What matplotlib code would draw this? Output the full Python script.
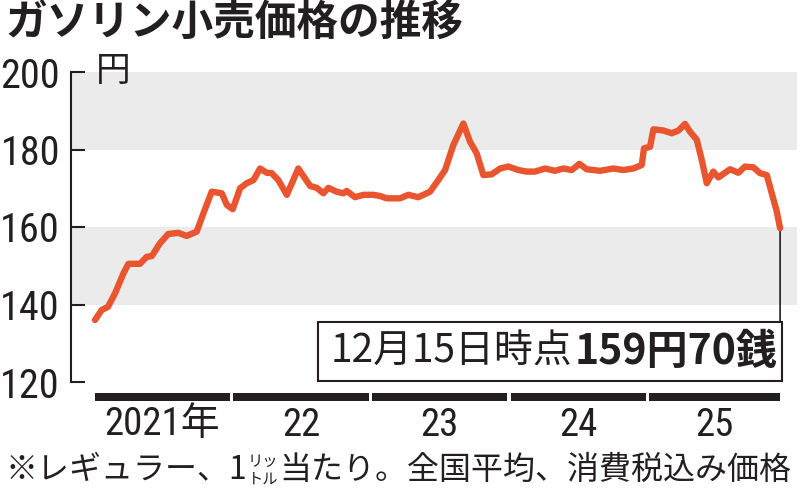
import matplotlib
matplotlib.use('Agg')
import matplotlib.pyplot as plt
import matplotlib.transforms as mtransforms
from matplotlib import font_manager
from matplotlib.patches import Rectangle

# ガソリン小売価格（円/リットル）、横軸は年（小数）
date_year = [2021.014, 2021.063, 2021.108, 2021.159, 2021.219, 2021.255, 2021.339,
             2021.387, 2021.424, 2021.483, 2021.543, 2021.615, 2021.676, 2021.748,
             2021.796, 2021.856, 2021.929, 2021.965, 2022.008, 2022.061, 2022.109,
             2022.157, 2022.205, 2022.253, 2022.289, 2022.337, 2022.398, 2022.481,
             2022.566, 2022.614, 2022.662, 2022.698, 2022.758, 2022.806, 2022.830,
             2022.890, 2022.950, 2023.022, 2023.071, 2023.119, 2023.215, 2023.275,
             2023.347, 2023.431, 2023.491, 2023.540, 2023.600, 2023.672, 2023.720,
             2023.768, 2023.816, 2023.877, 2023.937, 2023.996, 2024.069, 2024.129,
             2024.189, 2024.261, 2024.333, 2024.393, 2024.454, 2024.509, 2024.562,
             2024.658, 2024.754, 2024.826, 2024.898, 2024.959, 2024.975, 2025.019,
             2025.043, 2025.115, 2025.175, 2025.224, 2025.271, 2025.307, 2025.356,
             2025.392, 2025.428, 2025.475, 2025.512, 2025.596, 2025.656, 2025.704,
             2025.764, 2025.812, 2025.861, 2025.897, 2025.933, 2025.957]
price = [136.0, 138.6, 139.4, 142.9, 148.0, 150.5, 150.5,
         152.3, 152.5, 155.8, 158.2, 158.5, 157.7, 158.8,
         163.5, 169.1, 168.7, 165.7, 164.6, 170.0, 171.3,
         172.1, 175.1, 174.0, 173.9, 172.1, 168.3, 175.1,
         170.6, 170.1, 168.7, 170.1, 169.1, 168.7, 169.3,
         167.7, 168.3, 168.3, 168.0, 167.4, 167.4, 168.3,
         167.7, 169.1, 172.1, 174.7, 181.2, 186.7, 182.0,
         179.0, 173.4, 173.6, 175.1, 175.6, 174.7, 174.3,
         174.3, 175.1, 174.5, 175.1, 174.7, 176.3, 174.9,
         174.5, 175.1, 174.7, 175.1, 176.0, 180.3, 180.7,
         185.2, 184.9, 184.2, 184.9, 186.6, 184.6, 182.5,
         177.3, 171.3, 174.3, 172.8, 174.9, 174.0, 175.6,
         175.4, 173.9, 173.4, 168.7, 164.0, 159.7]

year_starts = [2021, 2022, 2023, 2024, 2025]
year_labels = ['2021年', '22', '23', '24', '25']
ytick_values = [120, 140, 160, 180, 200]
band_ranges = [(180, 200), (140, 160)]

title = 'ガソリン小売価格の推移'
unit = '円'
latest_note = '12月15日時点'
latest_value = '159円70銭'
foot_1 = '※レギュラー、1'
foot_small = ('リッ', 'トル')
foot_2 = '当たり。全国平均、消費税込み価格'

W, H = 800, 492
INK = '#231f20'
ORANGE = '#e8552f'
JP = 'Noto Sans CJK JP'
installed = {f.name for f in font_manager.fontManager.ttflist}
NUM = next((n for n in ['Roboto Condensed', 'Archivo Narrow', 'PT Sans Narrow']
            if n in installed), 'DejaVu Sans')

fig = plt.figure(figsize=(W / 100, H / 100), dpi=100)
# pixel coords measured from the top-left corner
px = mtransforms.Affine2D().scale(1 / W, -1 / H).translate(0, 1) + fig.transFigure

ax = fig.add_axes([71 / W, 1 - 382 / H, 726 / W, 310 / H])
ax.set_facecolor('none')
ax.set_xlim(2020.841, 2026.079)
ax.set_ylim(120, 200)

for lo, hi in band_ranges:
    ax.axhspan(lo, hi, xmin=0.002, color='#ebebeb', lw=0, zorder=0)

ax.plot(date_year, price, color=ORANGE, lw=4.6,
        solid_capstyle='round', solid_joinstyle='round', zorder=3)

for s in ['top', 'right', 'bottom']:
    ax.spines[s].set_visible(False)
ax.spines['left'].set_linewidth(1.5)
ax.spines['left'].set_color(INK)
ax.set_xticks([])
ax.set_yticks(ytick_values)
ax.tick_params(axis='y', direction='in', length=10, width=1.5, color=INK,
               pad=8, labelsize=29, labelcolor=INK)
for lab in ax.get_yticklabels():
    lab.set_family([NUM, JP])

# year bars under the plot
trans = mtransforms.blended_transform_factory(ax.transData, px)
for y0, lab in zip(year_starts, year_labels):
    x0 = y0 + 0.012
    x1 = min(y0 + 0.988, date_year[-1])
    ax.add_patch(Rectangle((x0, 393), x1 - x0, 8, transform=trans,
                           color=INK, lw=0, clip_on=False))
    ax.text((x0 + x1) / 2, 425, lab, transform=trans, ha='center', va='center',
            fontsize=28, family=[NUM, JP], color=INK)

# latest value box with leader line
ax.annotate('', xy=(date_year[-1], price[-1]), xytext=(date_year[-1], 322),
            textcoords=trans,
            arrowprops=dict(arrowstyle='-', lw=1.2, color=INK, shrinkA=0, shrinkB=0),
            zorder=2)
fig.add_artist(Rectangle((318, 322), 464, 59, transform=px,
                         facecolor='white', edgecolor=INK, lw=1.5))

fig.canvas.draw()
r = fig.canvas.get_renderer()
note = fig.text(331, 352, latest_note, transform=px, ha='left', va='center',
                fontsize=28, family=JP, color=INK)
xe = note.get_window_extent(r).x1 + 2
fig.text(xe, 352, latest_value, transform=px, ha='left', va='center',
         fontsize=29.5, family=JP, weight='bold', color=INK)

fig.text(5, 23, title, transform=px, ha='left', va='center',
         fontsize=30, family=JP, weight='bold', color=INK)
fig.text(96, 72, unit, transform=px, ha='left', va='center',
         fontsize=25, family=JP, color=INK)

# footnote with small stacked "リットル"
t1 = fig.text(5, 470, foot_1, transform=px, ha='left', va='center',
              fontsize=23, family=JP, color=INK)
xe = t1.get_window_extent(r).x1 + 1
s1 = fig.text(xe, 461, foot_small[0], transform=px, ha='left', va='center',
              fontsize=11, family=JP, color=INK)
s2 = fig.text(xe, 479, foot_small[1], transform=px, ha='left', va='center',
              fontsize=11, family=JP, color=INK)
xe = max(s1.get_window_extent(r).x1, s2.get_window_extent(r).x1) + 1
fig.text(xe, 470, foot_2, transform=px, ha='left', va='center',
         fontsize=23, family=JP, color=INK)

fig.savefig('out.png', dpi=100)
